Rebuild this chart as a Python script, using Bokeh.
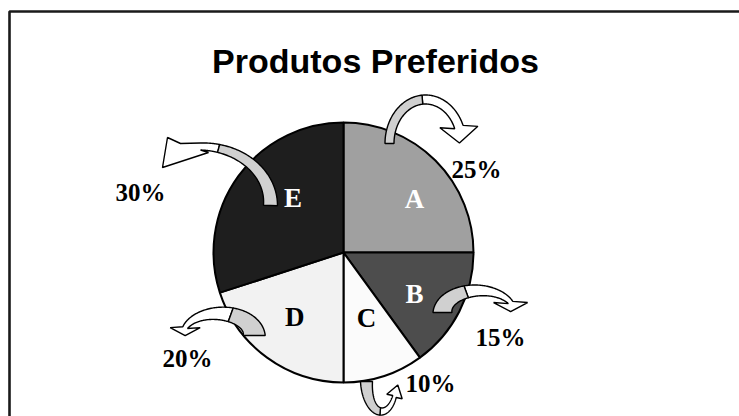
import numpy as np
from bokeh.plotting import figure
from bokeh.models import Range1d, ColumnDataSource, Label
from bokeh.core.properties import value
from bokeh.embed import file_html
from bokeh.resources import INLINE

# ---------------- data ----------------
title = "Produtos Preferidos"
categories = ["A", "B", "C", "D", "E"]
shares = [25, 15, 10, 20, 30]
pct_labels = ["25%", "15%", "10%", "20%", "30%"]

# ---------------- style ----------------
slice_colors = ["#a0a0a0", "#4d4d4d", "#fbfbfb", "#f2f2f2", "#1e1e1e"]
letter_colors = ["white", "white", "black", "black", "white"]
W, H = 739, 416
PX0, PY0 = 0, 416  # page -> data: x = px, y = 416 - py

def to_data(px, py):
    return np.asarray(px) - PX0, PY0 - np.asarray(py)

pie_cx, pie_cy, pie_r = 343, 252, 130  # page pixels
# letter label placement (angle deg, radius px) per slice
letter_ang = [37, -30, -70.5, -127, 133]
letter_rad = [89, 82, 69, 81, 74]
# percent label offsets from pie centre (page px)
pct_dx = [133, 157, 87, -156, -203]
pct_dy = [-83, 85, 131, 106, -60]

# curved arrows: ellipse centre offset, radii, t0, t1, widths, grey-until, head dir, head pts
arrows = [
    dict(off=(82, -109), rx=36, ry=44, t0=180, t1=22, w0=9, w1=9, tg=95, hd=-88,
         head=[(0, 19), (16, 0), (0, -19)]),
    dict(off=(135, 60), rx=36, ry=22, t0=180, t1=27, w0=19, w1=5, tg=110, hd=-90,
         head=[(0, 17), (9, 0), (0, -17)]),
    dict(off=(38, 129), rx=15, ry=30, t0=180, t1=330, w0=12, w1=4, tg=265, hd=74,
         head=[(0, 8), (12, 0), (0, -8)]),
    dict(off=(-125, 83), rx=35.7, ry=22, t0=0, t1=159, w0=22, w1=5, tg=70, hd=-90,
         head=[(0, 15), (8, 0), (0, -15)]),
    dict(off=(-143, -49), rx=70, ry=57, t0=-2, t1=90, w0=14, w1=7, tg=75, hd=180,
         head=[(-8, -6), (38, -21), (33, 9), (20, 3)]),
]

p = figure(width=W, height=H, x_range=Range1d(0, W), y_range=Range1d(0, H),
           output_backend="svg", toolbar_location=None, min_border=0,
           x_axis_location=None, y_axis_location=None)
p.grid.visible = False
p.outline_line_color = None
p.background_fill_color = "white"
p.border_fill_color = "white"

# frame (top & left edges visible, rest cropped)
bx, by = to_data([9, 9, 760], [440, 11, 11])
p.line(bx, by, line_color="#1a1a1a", line_width=2.6)

# pie
vals = np.array(shares, dtype=float)
cum = np.concatenate([[0], np.cumsum(vals)]) / vals.sum()
start = np.radians(90 - cum[:-1] * 360)
end = np.radians(90 - cum[1:] * 360)
cxd, cyd = to_data(pie_cx, pie_cy)
src = ColumnDataSource(dict(start=start, end=end, color=slice_colors, cat=categories))
p.wedge(x=float(cxd), y=float(cyd), radius=pie_r, start_angle="start", end_angle="end",
        direction="clock", fill_color="color", line_color="black", line_width=2, source=src)

# arrows
def ell(cx, cy, rx, ry, t):
    t = np.radians(t)
    return cx + rx * np.cos(t), cy - ry * np.sin(t)

for a in arrows:
    cx, cy = pie_cx + a["off"][0], pie_cy + a["off"][1]
    rx, ry = a["rx"], a["ry"]
    def band(ta, tb):
        t = np.linspace(ta, tb, 60)
        frac = (t - a["t0"]) / (a["t1"] - a["t0"])
        w = a["w0"] + (a["w1"] - a["w0"]) * frac
        ix, iy = ell(cx, cy, rx - w / 2, ry - w / 2, t)
        ox, oy = ell(cx, cy, rx + w / 2, ry + w / 2, t)
        return ix, iy, ox, oy
    # grey part
    ix, iy, ox, oy = band(a["t0"], a["tg"])
    gx = np.concatenate([ix, ox[::-1]]); gy = np.concatenate([iy, oy[::-1]])
    # white part + head
    ix, iy, ox, oy = band(a["tg"], a["t1"])
    bxp, byp = ell(cx, cy, rx, ry, a["t1"])
    ang = np.radians(a["hd"])
    u = np.array([np.cos(ang), -np.sin(ang)])
    n = np.array([-u[1], u[0]])
    hp = [(bxp + al * u[0] + ac * n[0], byp + al * u[1] + ac * n[1]) for al, ac in a["head"]]
    d_first = (hp[0][0] - ix[-1]) ** 2 + (hp[0][1] - iy[-1]) ** 2
    d_last = (hp[-1][0] - ix[-1]) ** 2 + (hp[-1][1] - iy[-1]) ** 2
    if d_last < d_first:
        hp = hp[::-1]
    hx = [q[0] for q in hp]; hy = [q[1] for q in hp]
    wx = np.concatenate([ix, hx, ox[::-1]]); wy = np.concatenate([iy, hy, oy[::-1]])
    dx, dy = to_data(wx, wy)
    p.patch(dx, dy, fill_color="white", line_color="black", line_width=1.4)
    dx, dy = to_data(gx, gy)
    p.patch(dx, dy, fill_color="#d0d0d0", line_color="black", line_width=1.4)

# letters
la = np.radians(letter_ang)
lx = pie_cx + np.array(letter_rad) * np.cos(la)
ly = pie_cy - np.array(letter_rad) * np.sin(la)
ldx, ldy = to_data(lx, ly)
p.text(x=ldx, y=ldy, text=categories, text_color=letter_colors,
       text_font=value("Liberation Serif"), text_font_style="bold",
       text_font_size="27px", text_align="center", text_baseline="middle")

# percentages
px_ = pie_cx + np.array(pct_dx); py_ = pie_cy + np.array(pct_dy)
pdx, pdy = to_data(px_, py_)
p.text(x=pdx, y=pdy, text=pct_labels, text_color="black",
       text_font=value("Liberation Serif"), text_font_style="bold",
       text_font_size="25px", text_align="center", text_baseline="middle")

# title
tx, ty = to_data(375, 60)
p.add_layout(Label(x=float(tx), y=float(ty), text=title, text_align="center",
                   text_baseline="alphabetic", text_font="Liberation Sans",
                   text_font_style="bold", text_font_size="34px", text_color="black"))

open("out.html", "w").write(file_html(p, INLINE))
